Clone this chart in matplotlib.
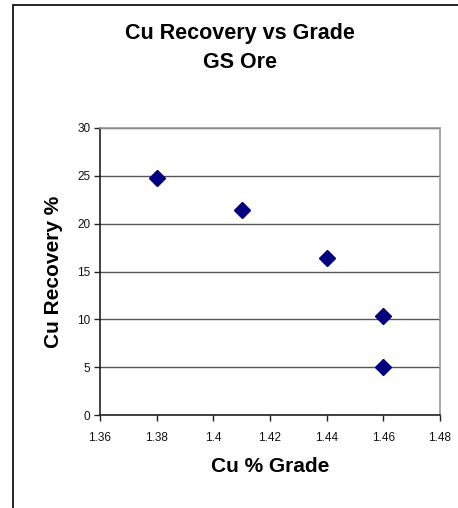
import numpy as np
import matplotlib
matplotlib.use('Agg')
import matplotlib.pyplot as plt
from matplotlib.patches import Rectangle

plt.rcParams['font.family'] = ['Liberation Sans', 'DejaVu Sans']

# data
grade = [1.38, 1.41, 1.44, 1.46, 1.46]
recovery = [24.8, 21.4, 16.4, 10.3, 5.0]
x_ticks = [1.36, 1.38, 1.40, 1.42, 1.44, 1.46, 1.48]
x_tick_labels = ['1.36', '1.38', '1.4', '1.42', '1.44', '1.46', '1.48']
y_ticks = [0, 5, 10, 15, 20, 25, 30]

W, H = 458, 508
fig = plt.figure(figsize=(W / 100, H / 100), dpi=100, facecolor='white')

# outer chart frame (runs off the right and bottom of the image)
fig.patches.append(Rectangle((13 / W, -0.1), 1.2, 1 - 5 / H + 0.1,
                             transform=fig.transFigure, fill=False,
                             edgecolor='black', linewidth=1.2))

ax = fig.add_axes([100 / W, 1 - 415 / H, 340 / W, 287 / H])
ax.set_xlim(1.36, 1.48)
ax.set_ylim(0, 30)
ax.set_xticks(x_ticks)
ax.set_xticklabels(x_tick_labels)
ax.set_yticks(y_ticks)
ax.grid(axis='y', color='#555555', linewidth=1.0)
ax.set_axisbelow(True)

ax.plot(grade, recovery, linestyle='none', marker='D', markersize=8,
        color='#000080', markeredgecolor='#000080', zorder=3)

for s in ['top', 'right']:
    ax.spines[s].set_color('#999999')
    ax.spines[s].set_linewidth(1.2)
for s in ['left', 'bottom']:
    ax.spines[s].set_color('#222222')
    ax.spines[s].set_linewidth(1.2)

ax.tick_params(direction='out', length=4, width=1, color='#222222',
               labelsize=8.5, labelcolor='#111111', pad=3)
ax.tick_params(axis='x', pad=8)

ax.set_xlabel('Cu % Grade', fontsize=15, fontweight='bold', va='center')
ax.xaxis.set_label_coords(0.5, -0.181)
ax.set_ylabel('Cu Recovery %', fontsize=15, fontweight='bold', va='center')
ax.yaxis.set_label_coords(-0.138, 0.498)

fig.text(240 / W, 1 - 33 / H, 'Cu Recovery vs Grade', ha='center', va='center',
         fontsize=15.5, fontweight='bold')
fig.text(240 / W, 1 - 63 / H, 'GS Ore', ha='center', va='center',
         fontsize=15.5, fontweight='bold')

fig.savefig('out.png', dpi=100, facecolor='white')
